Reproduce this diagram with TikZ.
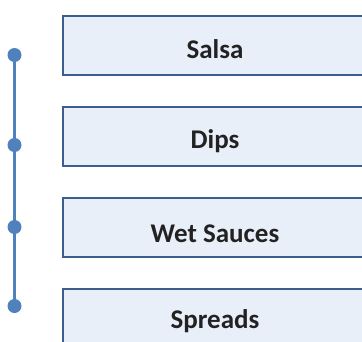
\documentclass[tikz,border=0pt]{standalone}
\usepackage{fontspec}
\setsansfont{Carlito}
\usepackage{xcolor}
\definecolor{boxline}{HTML}{3A5F8F}
\definecolor{boxfill}{HTML}{E9EFF9}
\definecolor{spine}{HTML}{4F81BD}
\definecolor{label}{HTML}{222222}
\usepackage{tikz}
\usetikzlibrary{positioning}

\begin{document}
\begin{tikzpicture}[
  x=1pt, y=-1pt,
  catbox/.style={draw=boxline, fill=boxfill, line width=2pt, anchor=north west,
    minimum width=306pt, minimum height=59pt, inner sep=0pt},
  catlabel/.style={anchor=base, text=label, inner sep=0pt,
    font=\sffamily\bfseries\fontsize{27}{31}\selectfont},
  dot/.style={circle, fill=spine, inner sep=0pt, minimum size=14pt}
]
  \clip (0,0) rectangle (362,341);

  % Boxes
  \node[catbox] (salsa) at (62,14.5) {};
  \node[catbox] (dips) at (62,105.5) {};
  \node[catbox] (wet) at (62,196.5) {};
  \node[catbox] (spreads) at (62,287.5) {};

  % Labels
  \node[catlabel] (salsalbl) at (215,58) {Salsa};
  \node[catlabel] (dipslbl) at (215,148) {Dips};
  \node[catlabel] (wetlbl) at (215,242) {Wet Sauces};
  \node[catlabel] (spreadslbl) at (215,328) {Spreads};

  % Timeline
  \node[dot] (d1) at (14.5,55) {};
  \node[dot] (d2) at (14.5,145) {};
  \node[dot] (d3) at (14.5,227) {};
  \node[dot] (d4) at (14.5,306) {};
  \draw[spine, line width=2.7pt] (d1.center) -- (d4.center);

\end{tikzpicture}
\end{document}
